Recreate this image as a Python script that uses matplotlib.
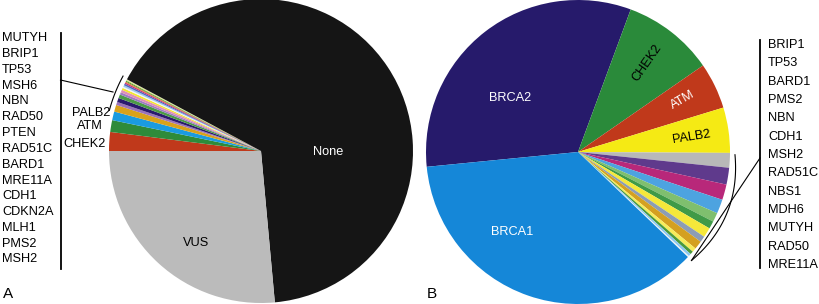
import numpy as np
import matplotlib
matplotlib.use("Agg")
import matplotlib.pyplot as plt

plt.rcParams['font.family'] = ['Liberation Sans', 'DejaVu Sans']

# ---------------- Data ----------------
# Panel A (percent)
a_main_labels = ["CHEK2", "ATM", "PALB2"]
a_main_values = [2.0, 1.25, 0.92]
a_small_values = [0.72, 0.33, 0.44, 0.39, 0.25, 0.28, 0.22, 0.14, 0.17, 0.17,
                  0.14, 0.11, 0.11, 0.08, 0.08]
a_none = 65.6
a_vus = 26.4
a_gene_list = ["MUTYH", "BRIP1", "TP53", "MSH6", "NBN", "RAD50", "PTEN", "RAD51C",
               "BARD1", "MRE11A", "CDH1", "CDKN2A", "MLH1", "PMS2", "MSH2"]

# Panel B (percent)
b_main_labels = ["BRCA2", "CHEK2", "ATM", "PALB2"]
b_main_values = [32.1, 9.7, 4.9, 4.8]
b_small_values = [1.56, 1.78, 1.64, 1.5, 0.97, 0.81, 1.03, 0.64, 0.89, 0.44,
                  0.33, 0.28, 0.14]
b_brca1 = 36.2
b_gene_list = ["BRIP1", "TP53", "BARD1", "PMS2", "NBN", "CDH1", "MSH2", "RAD51C",
               "NBS1", "MDH6", "MUTYH", "RAD50", "MRE11A"]

# ---------------- Styles ----------------
a_main_colors = ["#c0391b", "#2e8b3a", "#1a9be0"]
a_small_colors = ["#d9a21b", "#9b72b8", "#2a1a6e", "#4c9b46", "#a07cc4", "#e08fb8",
                  "#f4e631", "#f4f4f4", "#9cc8ec", "#4a67c4", "#c2337b", "#e87b2a",
                  "#4a9a3c", "#c8dc5a", "#e0e0a0"]
a_none_color = "#151515"
a_vus_color = "#bbbbbb"

b_main_colors = ["#261a6b", "#2a8a3a", "#c0391b", "#f5ea14"]
b_small_colors = ["#b8b8b8", "#5f3a8c", "#b8287a", "#4da3e0", "#7fbf6e", "#3f9a47",
                  "#f5e83a", "#8c9db5", "#d4a020", "#f7ec5a", "#4a9a3c", "#8ec8ee",
                  "#f4f4f4"]
b_brca1_color = "#1587d8"

W, H = 819, 304
fig = plt.figure(figsize=(W / 100, H / 100), dpi=100)
ax = fig.add_axes([0, 0, 1, 1])

ca = (261, 153)
cb = (578, 152)
R = 152

# Pie A: clockwise from 180 deg
vals_a = a_main_values + a_small_values + [a_none, a_vus]
cols_a = a_main_colors + a_small_colors + [a_none_color, a_vus_color]
ax.pie(vals_a, colors=cols_a, center=ca, radius=R, startangle=180,
       counterclock=False, wedgeprops=dict(linewidth=0), frame=True)

# Pie B
vals_b = b_main_values + b_small_values + [b_brca1]
cols_b = b_main_colors + b_small_colors + [b_brca1_color]
ax.pie(vals_b, colors=cols_b, center=cb, radius=R, startangle=185.6,
       counterclock=False, wedgeprops=dict(linewidth=0), frame=True)

ax.set_xlim(0, W)
ax.set_ylim(0, H)
ax.set_aspect('auto')
ax.axis('off')

fs = 9.2
# Pie labels
ax.text(328, H - 152, "None", color="white", fontsize=fs, ha="center", va="center")
ax.text(196, H - 243, "VUS", color="black", fontsize=fs, ha="center", va="center")
ax.text(510, H - 98, "BRCA2", color="white", fontsize=fs, ha="center", va="center")
ax.text(512, H - 232, "BRCA1", color="white", fontsize=fs, ha="center", va="center")
ax.text(647, H - 63, "CHEK2", color="black", fontsize=fs, ha="center", va="center", rotation=55)
ax.text(683, H - 100, "ATM", color="white", fontsize=fs, ha="center", va="center", rotation=30)
ax.text(691, H - 137, "PALB2", color="black", fontsize=fs, ha="center", va="center", rotation=9)

# Left side labels of A
ax.text(110, H - 113, "PALB2", fontsize=fs, ha="right", va="center")
ax.text(103, H - 126, "ATM", fontsize=fs, ha="right", va="center")
ax.text(106, H - 144, "CHEK2", fontsize=fs, ha="right", va="center")

# Gene list A
for i, g in enumerate(a_gene_list):
    ax.text(2, H - (38.3 + i * 15.8), g, fontsize=fs, ha="left", va="center")
ax.plot([60.5, 60.5], [H - 33, H - 269], color="black", lw=1.3)
ax.plot([60.5, 113], [H - 80, H - 92], color="black", lw=0.8)
th = np.radians(np.linspace(151.5, 165, 40))
ax.plot(ca[0] + 157 * np.cos(th), ca[1] + 157 * np.sin(th), color="black", lw=0.8)

# Gene list B
for i, g in enumerate(b_gene_list):
    ax.text(768, H - (45 + i * 18.33), g, fontsize=fs, ha="left", va="center")
ax.plot([760, 760], [H - 40, H - 268], color="black", lw=1.3)
th = np.radians(np.linspace(-1, -43.7, 60))
rr = 157 + 4 * np.sin(np.linspace(0, np.pi, 60))
ax.plot(cb[0] + rr * np.cos(th), cb[1] + rr * np.sin(th), color="black", lw=0.8)
ax.plot([760, cb[0] + 157 * np.cos(np.radians(-43.7))],
        [H - 158, cb[1] + 157 * np.sin(np.radians(-43.7))], color="black", lw=0.8)

# Panel letters
ax.text(3, H - 294, "A", fontsize=11, ha="left", va="center")
ax.text(427, H - 294, "B", fontsize=11, ha="left", va="center")

fig.savefig("out.png", dpi=100)
